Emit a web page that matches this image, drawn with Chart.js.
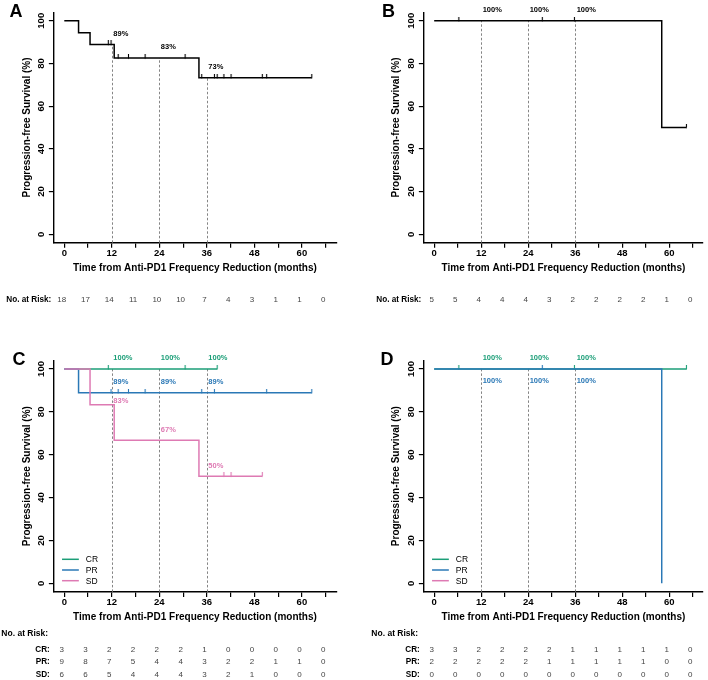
<!DOCTYPE html>
<html>
<head>
<meta charset="utf-8">
<script src="https://cdn.jsdelivr.net/npm/chart.js@4.4.1/dist/chart.umd.min.js"></script>
<style>
  html, body { margin: 0; padding: 0; background: #fff; overflow: hidden; }
  #fig { position: relative; width: 708px; height: 680px; }
  .panel { position: absolute; }
</style>
</head>
<body>
<div id="fig">
  <div class="panel" style="left:0;top:0"><canvas id="chartA" width="354" height="330"></canvas></div>
  <div class="panel" style="left:354px;top:0"><canvas id="chartB" width="354" height="330"></canvas></div>
  <div class="panel" style="left:0;top:330px"><canvas id="chartC" width="354" height="350"></canvas></div>
  <div class="panel" style="left:354px;top:330px"><canvas id="chartD" width="354" height="350"></canvas></div>
</div>
<script>
// Eixos comuns
const timeTicks = [0, 6, 12, 18, 24, 30, 36, 42, 48, 54, 60, 66];
const survTicks = [0, 20, 40, 60, 80, 100];
const landmarkTimes = [12, 24, 36];

// Painel A - todos os pacientes
const allTimes = [0, 3.6, 6.5, 12.6, 34.0, 62.5];
const allSurv = [100, 94.4, 88.9, 82.5, 73.3, 73.3];
const allCensor = [11.1, 11.8, 13.6, 16.2, 20.4, 30.5, 34.7, 37.9, 38.6, 40.3, 42.1, 50.0, 51.1, 62.5];
const allLabels = ['89%', '83%', '73%'];
const allRisk = [18, 17, 14, 11, 10, 10, 7, 4, 3, 1, 1, 0];

// Painel B - todos os pacientes (segundo grupo)
const bTimes = [0, 58.1, 64.4];
const bSurv = [100, 50, 50];
const bCensor = [6.3, 27.6, 35.8, 64.4];
const bLabels = ['100%', '100%', '100%'];
const bRisk = [5, 5, 4, 4, 4, 3, 2, 2, 2, 2, 1, 0];

// Painel C - por resposta
const cCrTimes = [0, 38.6];
const cCrSurv = [100, 100];
const cCrCensor = [11.1, 30.5, 38.6];
const cCrLabels = ['100%', '100%', '100%'];
const cCrRisk = [3, 3, 2, 2, 2, 2, 1, 0, 0, 0, 0, 0];

const cPrTimes = [0, 3.6, 62.5];
const cPrSurv = [100, 88.9, 88.9];
const cPrCensor = [11.8, 13.6, 16.2, 20.4, 34.7, 37.9, 51.1, 62.5];
const cPrLabels = ['89%', '89%', '89%'];
const cPrRisk = [9, 8, 7, 5, 4, 4, 3, 2, 2, 1, 1, 0];

const cSdTimes = [0, 6.5, 12.6, 34.0, 50.0];
const cSdSurv = [100, 83.3, 66.7, 50, 50];
const cSdCensor = [40.3, 42.1, 50.0];
const cSdLabels = ['83%', '67%', '50%'];
const cSdRisk = [6, 6, 5, 4, 4, 4, 3, 2, 1, 0, 0, 0];

// Painel D - por resposta
const dCrTimes = [0, 64.4];
const dCrSurv = [100, 100];
const dCrCensor = [6.3, 35.8, 64.4];
const dCrLabels = ['100%', '100%', '100%'];
const dCrRisk = [3, 3, 2, 2, 2, 2, 1, 1, 1, 1, 1, 0];

const dPrTimes = [0, 58.1];
const dPrSurv = [100, 0];
const dPrCensor = [27.6];
const dPrLabels = ['100%', '100%', '100%'];
const dPrRisk = [2, 2, 2, 2, 2, 1, 1, 1, 1, 1, 0, 0];

const dSdTimes = [];
const dSdSurv = [];
const dSdCensor = [];
const dSdLabels = [];
const dSdRisk = [0, 0, 0, 0, 0, 0, 0, 0, 0, 0, 0, 0];

const FONT = '"Liberation Sans", Arial, Helvetica, sans-serif';
const X_MIN = -2.64, X_MAX = 68.64, PX_PER_MONTH = 3.96;
const COLORS = { black: '#000000', CR: '#1b9e77', PR: '#2a78b6', SD: '#de7ab3' };

// valor da curva em degrau no tempo t
function survAt(times, surv, t) {
    let s = surv.length ? surv[0] : 0;
    for (let i = 0; i < times.length; i++) {
        if (times[i] <= t) s = surv[i];
    }
    return s;
}

// marca de censura: traço vertical acima da linha
function censorMark(color) {
    const c = document.createElement('canvas');
    c.width = 3; c.height = 8;
    const g = c.getContext('2d');
    g.strokeStyle = color;
    g.lineWidth = 1.1;
    g.beginPath();
    g.moveTo(1.5, 0);
    g.lineTo(1.5, 4.5);
    g.stroke();
    return c;
}

function makeKmPlugin(panel, series) {
    return {
        id: 'km' + panel.letter,
        beforeDatasetsDraw(chart) {
            const ctx = chart.ctx, xs = chart.scales.x, ys = chart.scales.y;
            ctx.save();
            ctx.strokeStyle = '#777';
            ctx.lineWidth = 0.9;
            ctx.setLineDash([2.5, 2]);
            landmarkTimes.forEach(t => {
                const tops = series.filter(s => s.times.length).map(s => survAt(s.times, s.surv, t));
                const top = Math.max(...tops);
                const px = Math.round(xs.getPixelForValue(t)) + 0.5;
                ctx.beginPath();
                ctx.moveTo(px, chart.chartArea.bottom);
                ctx.lineTo(px, ys.getPixelForValue(top));
                ctx.stroke();
            });
            ctx.restore();
        },
        afterDatasetsDraw(chart) {
            const ctx = chart.ctx, xs = chart.scales.x, ys = chart.scales.y;
            ctx.save();
            ctx.font = 'bold 7.5px ' + FONT;
            ctx.textAlign = 'left';
            ctx.textBaseline = 'middle';
            series.forEach(s => {
                s.labels.forEach((txt, i) => {
                    const t = landmarkTimes[i];
                    ctx.fillStyle = s.color;
                    ctx.fillText(txt, xs.getPixelForValue(t) + 1.5,
                        ys.getPixelForValue(survAt(s.times, s.surv, t)) + s.labelOffset[i]);
                });
            });
            ctx.restore();
        },
        afterDraw(chart) {
            const ctx = chart.ctx, xs = chart.scales.x, ys = chart.scales.y;
            const area = chart.chartArea;
            ctx.save();
            // rótulos do eixo y (verticais, estilo R)
            ctx.fillStyle = '#000';
            ctx.font = 'bold 9.5px ' + FONT;
            ctx.textAlign = 'center';
            ctx.textBaseline = 'alphabetic';
            survTicks.forEach(v => {
                ctx.save();
                ctx.translate(area.left - 10, ys.getPixelForValue(v));
                ctx.rotate(-Math.PI / 2);
                ctx.fillText(String(v), 0, 0);
                ctx.restore();
            });
            // letra do painel
            ctx.font = 'bold 18px ' + FONT;
            ctx.textAlign = 'left';
            ctx.fillText(panel.letter, panel.letterX, panel.letterY);

            // legenda
            if (series.length > 1) {
                series.forEach((s, i) => {
                    const y = area.bottom - 32.6 + i * 10.7;
                    ctx.strokeStyle = s.color;
                    ctx.lineWidth = 1.5;
                    ctx.beginPath();
                    ctx.moveTo(area.left + 8.2, y);
                    ctx.lineTo(area.left + 25, y);
                    ctx.stroke();
                    ctx.fillStyle = '#000';
                    ctx.font = '8.5px ' + FONT;
                    ctx.textBaseline = 'middle';
                    ctx.fillText(s.name, area.left + 32, y + 0.5);
                });
            }

            // tabela de pacientes em risco
            ctx.textBaseline = 'middle';
            if (series.length === 1) {
                const y = area.bottom + 57.3;
                ctx.fillStyle = '#000';
                ctx.font = 'bold 8.2px ' + FONT;
                ctx.textAlign = 'right';
                ctx.fillText('No. at Risk:', area.left - 2.5, y);
                ctx.font = '8px ' + FONT;
                ctx.fillStyle = '#444';
                ctx.textAlign = 'center';
                series[0].risk.forEach((n, i) => {
                    ctx.fillText(String(n), xs.getPixelForValue(timeTicks[i]) - 2.5, y);
                });
            } else {
                ctx.fillStyle = '#000';
                ctx.font = 'bold 8.5px ' + FONT;
                ctx.textAlign = 'left';
                ctx.fillText('No. at Risk:', area.left - 52.5, area.bottom + 42.1);
                series.forEach((s, r) => {
                    const y = area.bottom + 57.4 + r * 12.85;
                    ctx.fillStyle = '#000';
                    ctx.font = 'bold 8.2px ' + FONT;
                    ctx.textAlign = 'right';
                    ctx.fillText(s.name + ':', area.left - 4, y);
                    ctx.font = '8px ' + FONT;
                    ctx.fillStyle = '#444';
                    ctx.textAlign = 'center';
                    s.risk.forEach((n, i) => {
                        ctx.fillText(String(n), xs.getPixelForValue(timeTicks[i]) - 2.5, y);
                    });
                });
            }
            ctx.restore();
        }
    };
}

function buildChart(panel, series) {
    const chartLeft = panel.zeroX + X_MIN * PX_PER_MONTH;
    const chartRight = panel.zeroX + X_MAX * PX_PER_MONTH;
    const X_AXIS_H = 31;

    const datasets = [];
    series.forEach((s, i) => {
        datasets.push({
            label: s.name,
            data: s.times.map((t, k) => ({ x: t, y: s.surv[k] })),
            stepped: 'before',
            borderColor: s.color,
            borderWidth: 1.5,
            pointRadius: 0,
            fill: false,
            order: 10 - i
        });
        datasets.push({
            label: s.name + ' censor',
            data: s.censor.map(t => ({ x: t, y: survAt(s.times, s.surv, t) })),
            showLine: false,
            pointStyle: censorMark(s.color),
            pointRadius: 3,
            order: 10 - i
        });
    });

    const axisGrid = { drawOnChartArea: false, drawTicks: true, tickLength: 5, tickColor: '#000', tickWidth: 1.2, lineWidth: 1.2 };
    const axisBorder = { display: true, color: '#000', width: 1.4 };

    return new Chart(document.getElementById(panel.id), {
        type: 'line',
        data: { datasets },
        plugins: [makeKmPlugin(panel, series)],
        options: {
            responsive: false,
            animation: false,
            layout: {
                padding: {
                    left: 0,
                    top: panel.top,
                    right: panel.w - chartRight,
                    bottom: panel.h - panel.bottom - X_AXIS_H
                }
            },
            plugins: { legend: { display: false }, tooltip: { enabled: false } },
            scales: {
                x: {
                    type: 'linear',
                    min: X_MIN,
                    max: X_MAX,
                    afterBuildTicks: sc => { sc.ticks = timeTicks.map(v => ({ value: v })); },
                    afterFit: sc => { sc.height = X_AXIS_H; },
                    ticks: {
                        autoSkip: false, maxRotation: 0, minRotation: 0, padding: 0,
                        color: '#000',
                        font: { family: FONT, size: 9.5, weight: 'bold' },
                        callback: v => (v % 12 === 0 ? String(v) : '')
                    },
                    grid: axisGrid,
                    border: axisBorder,
                    title: {
                        display: true,
                        text: 'Time from Anti-PD1 Frequency Reduction (months)',
                        color: '#000',
                        padding: 0,
                        font: { family: FONT, size: 10, weight: 'bold' }
                    }
                },
                y: {
                    type: 'linear',
                    min: -4,
                    max: 104,
                    afterBuildTicks: sc => { sc.ticks = survTicks.map(v => ({ value: v })); },
                    afterFit: sc => { sc.width = chartLeft; },
                    ticks: { autoSkip: false, padding: 0, callback: () => '' },
                    grid: axisGrid,
                    border: axisBorder,
                    title: {
                        display: true,
                        text: 'Progression-free Survival (%)',
                        color: '#000',
                        padding: { top: panel.yTitleX - 6, bottom: 0 },
                        font: { family: FONT, size: 10, weight: 'bold' }
                    }
                }
            }
        }
    });
}

buildChart(
    { id: 'chartA', letter: 'A', w: 354, h: 330, zeroX: 64.3, top: 12.2, bottom: 242.8, yTitleX: 27.5, letterX: 9.5, letterY: 16.8 },
    [{ name: 'All', color: COLORS.black, times: allTimes, surv: allSurv, censor: allCensor, labels: allLabels, risk: allRisk, labelOffset: [-11, -11, -11] }]
);
buildChart(
    { id: 'chartB', letter: 'B', w: 354, h: 330, zeroX: 80.3, top: 12.2, bottom: 242.8, yTitleX: 42.2, letterX: 28, letterY: 16.5 },
    [{ name: 'All', color: COLORS.black, times: bTimes, surv: bSurv, censor: bCensor, labels: bLabels, risk: bRisk, labelOffset: [-10.7, -10.7, -10.7] }]
);
buildChart(
    { id: 'chartC', letter: 'C', w: 354, h: 350, zeroX: 64.3, top: 30.4, bottom: 261.9, yTitleX: 27.5, letterX: 12.5, letterY: 34.8 },
    [
        { name: 'CR', color: COLORS.CR, times: cCrTimes, surv: cCrSurv, censor: cCrCensor, labels: cCrLabels, risk: cCrRisk, labelOffset: [-10.7, -10.7, -10.7] },
        { name: 'PR', color: COLORS.PR, times: cPrTimes, surv: cPrSurv, censor: cPrCensor, labels: cPrLabels, risk: cPrRisk, labelOffset: [-10.5, -10.5, -10.5] },
        { name: 'SD', color: COLORS.SD, times: cSdTimes, surv: cSdSurv, censor: cSdCensor, labels: cSdLabels, risk: cSdRisk, labelOffset: [-3.5, -10.4, -10] }
    ]
);
buildChart(
    { id: 'chartD', letter: 'D', w: 354, h: 350, zeroX: 80.3, top: 30.4, bottom: 261.9, yTitleX: 42.2, letterX: 26.5, letterY: 34.8 },
    [
        { name: 'CR', color: COLORS.CR, times: dCrTimes, surv: dCrSurv, censor: dCrCensor, labels: dCrLabels, risk: dCrRisk, labelOffset: [-10.7, -10.7, -10.7] },
        { name: 'PR', color: COLORS.PR, times: dPrTimes, surv: dPrSurv, censor: dPrCensor, labels: dPrLabels, risk: dPrRisk, labelOffset: [11.7, 11.7, 11.7] },
        { name: 'SD', color: COLORS.SD, times: dSdTimes, surv: dSdSurv, censor: dSdCensor, labels: dSdLabels, risk: dSdRisk, labelOffset: [] }
    ]
);
</script>
</body>
</html>
